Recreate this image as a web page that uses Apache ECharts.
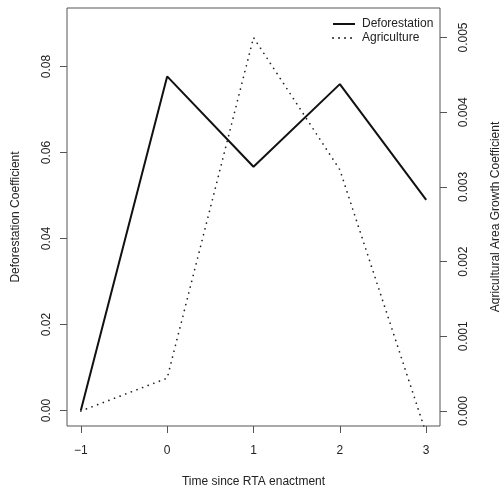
<!DOCTYPE html>
<html>
<head>
<meta charset="utf-8">
<script src="https://cdn.jsdelivr.net/npm/echarts@6/dist/echarts.min.js"></script>
<style>html,body{margin:0;padding:0;background:#fff;}#c{width:500px;height:485px;}</style>
</head>
<body>
<div id="c"></div>
<script>
const years = [-1, 0, 1, 2, 3];
const deforestation = [0.0000, 0.0777, 0.0567, 0.0759, 0.0490];
const agriculture = [0.00000, 0.00044, 0.00500, 0.00323, -0.00030];
const xTicks = [-1, 0, 1, 2, 3];
const leftTicks = [0.00, 0.02, 0.04, 0.06, 0.08];
const rightTicks = [0.000, 0.001, 0.002, 0.003, 0.004, 0.005];

const font = 'Liberation Sans, Arial, Helvetica, sans-serif';
const textColor = '#222';
const axisColor = '#555';

const chart = echarts.init(document.getElementById('c'), null, {renderer: 'canvas'});
chart.setOption({
  animation: false,
  backgroundColor: '#fff',
  textStyle: {fontFamily: font},
  grid: {left: 67, top: 8, right: 60, bottom: 59, show: true, borderColor: axisColor, borderWidth: 1,
    backgroundColor: 'transparent', containLabel: false, outerBoundsMode: 'none'},
  legend: {
    orient: 'vertical', left: 327, top: 13, itemWidth: 22, itemHeight: 14, itemGap: 2,
    itemStyle: {opacity: 0, color: 'transparent', borderWidth: 0},
    textStyle: {fontFamily: font, fontSize: 12, color: textColor, padding: [0, 0, 0, 2]},
    data: ['Deforestation', 'Agriculture']
  },
  xAxis: {
    type: 'value', min: -1.16, max: 3.16,
    name: 'Time since RTA enactment', nameLocation: 'middle', nameGap: 50,
    nameTextStyle: {fontFamily: font, fontSize: 12, color: textColor},
    axisLine: {show: false, onZero: false},
    axisTick: {show: true, length: 7, customValues: xTicks, lineStyle: {color: axisColor}},
    axisLabel: {customValues: xTicks, margin: 19, fontFamily: font, fontSize: 12, color: textColor,
      formatter: v => (v < 0 ? '\u2212' + Math.abs(v) : String(v))},
    splitLine: {show: false}
  },
  yAxis: [{
    type: 'value', min: -0.0036, max: 0.0936, position: 'left',
    name: 'Deforestation Coefficient', nameLocation: 'middle', nameRotate: 90, nameGap: 45,
    nameTextStyle: {fontFamily: font, fontSize: 12, color: textColor},
    axisLine: {show: false, onZero: false},
    axisTick: {show: true, length: 7, customValues: leftTicks, lineStyle: {color: axisColor}},
    axisLabel: {customValues: leftTicks, rotate: 90, margin: 14, fontFamily: font, fontSize: 12, color: textColor,
      formatter: v => v.toFixed(2)},
    splitLine: {show: false}
  }, {
    type: 'value', min: -0.0002, max: 0.005395, position: 'right',
    name: 'Agricultural Area Growth Coefficient', nameLocation: 'middle', nameRotate: 90, nameGap: 50,
    nameTextStyle: {fontFamily: font, fontSize: 12, color: textColor},
    axisLine: {show: false, onZero: false},
    axisTick: {show: true, length: 7, customValues: rightTicks, lineStyle: {color: axisColor}},
    axisLabel: {customValues: rightTicks, rotate: 90, margin: 18, fontFamily: font, fontSize: 12, color: textColor,
      formatter: v => v.toFixed(3)},
    splitLine: {show: false}
  }],
  series: [{
    name: 'Deforestation', type: 'line', yAxisIndex: 0,
    data: years.map((x, i) => [x, deforestation[i]]),
    showSymbol: false, symbol: 'none', clip: true,
    lineStyle: {color: '#111', width: 2}, itemStyle: {color: '#111'}
  }, {
    name: 'Agriculture', type: 'line', yAxisIndex: 1,
    data: years.map((x, i) => [x, agriculture[i]]),
    showSymbol: false, symbol: 'none', clip: true,
    lineStyle: {color: '#222', width: 1.7, type: [0.01, 6], cap: 'round'}, itemStyle: {color: '#222'}
  }]
});
</script>
</body>
</html>
